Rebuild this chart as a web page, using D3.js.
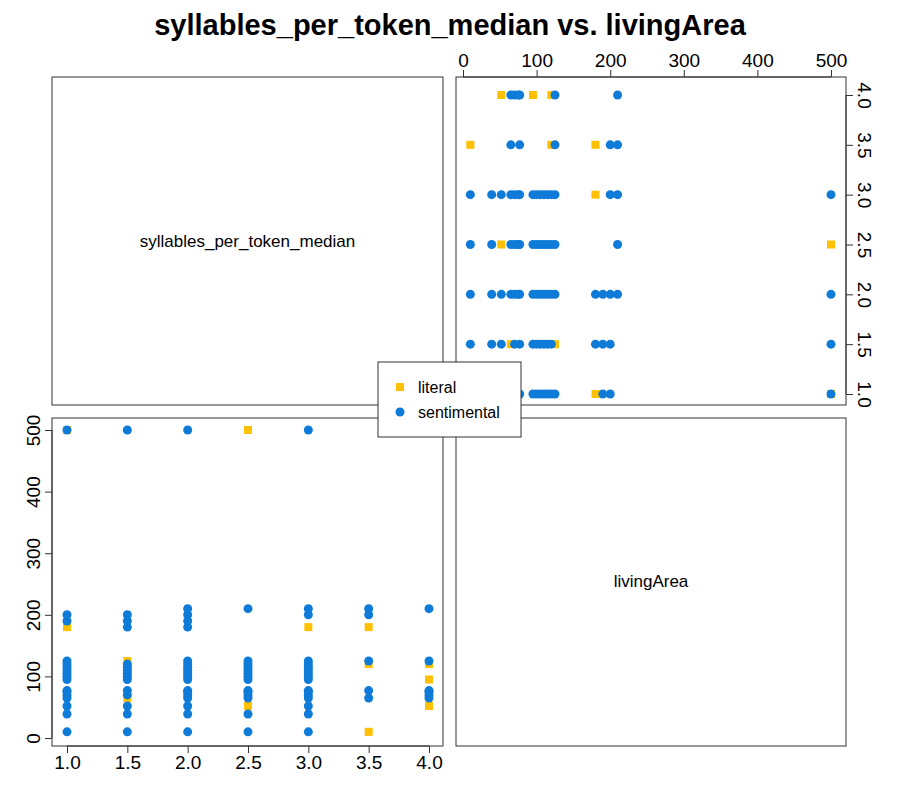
<!DOCTYPE html><html><head><script src="https://cdn.jsdelivr.net/npm/d3@7"></script>
<style>body{margin:0;background:#fff}text{font-family:Arial,"Liberation Sans",sans-serif}</style></head><body>
<script>
const sylLevels=[1,1.5,2,2.5,3,3.5,4];
const sentimentalBySyl={
1:[10,39,52,65,70,75,77,95,100,105,110,115,120,125,190,200,500],
1.5:[10,39,52,70,77,95,100,105,110,115,120,180,190,200,500],
2:[10,39,52,65,70,75,77,95,100,105,110,115,120,125,180,190,200,210,500],
2.5:[10,39,65,70,75,77,95,100,105,110,115,120,125,210],
3:[10,39,52,65,70,75,77,95,100,105,110,115,120,125,200,210,500],
3.5:[65,77,125,200,210],
4:[65,70,75,77,125,210]};
const literalBySyl={1:[180,500],1.5:[65,125],2:[],2.5:[52,500],3:[180],3.5:[10,120,180],4:[52,95,120]};
const pts=[];
sylLevels.forEach(s=>{sentimentalBySyl[s].forEach(a=>pts.push({s,a,g:"sentimental"}));literalBySyl[s].forEach(a=>pts.push({s,a,g:"literal"}));});
const col={literal:"#FFC000",sentimental:"#0E7BD8"};
const svg=d3.select("body").append("svg").attr("width",900).attr("height",800);
svg.append("text").attr("x",450).attr("y",35).attr("text-anchor","middle").attr("font-size",29).attr("font-weight","bold").text("syllables_per_token_median vs. livingArea");
const L=[52,443],R=[456,846],T=[77,405],B=[418,746];
function box(x,y){svg.append("rect").attr("x",x[0]).attr("y",y[0]).attr("width",x[1]-x[0]).attr("height",y[1]-y[0]).attr("fill","none").attr("stroke","#333");}
box(L,T);box(R,T);box(L,B);box(R,B);
svg.append("text").attr("x",(L[0]+L[1])/2).attr("y",247).attr("text-anchor","middle").attr("font-size",17).text("syllables_per_token_median");
svg.append("text").attr("x",(R[0]+R[1])/2).attr("y",587).attr("text-anchor","middle").attr("font-size",17).text("livingArea");
const xs=d3.scaleLinear().domain([1,4]).range([67,429]);
const ya=d3.scaleLinear().domain([0,500]).range([738,430]);
const xa=d3.scaleLinear().domain([0,500]).range([463,831]);
const ys=d3.scaleLinear().domain([1,4]).range([394,95]);
function axisStyle(g){g.selectAll("text").attr("font-size",19).attr("fill","#000");g.select(".domain").remove();g.selectAll("line").attr("stroke","#333");}
svg.append("g").attr("transform",`translate(0,${B[1]})`).call(d3.axisBottom(xs).tickValues(sylLevels).tickFormat(d3.format(".1f")).tickSize(7)).call(axisStyle).call(g=>g.append("line").attr("x1",xs(1)).attr("x2",xs(4)).attr("stroke","#333"));
svg.append("g").attr("class","ly").attr("transform",`translate(${L[0]},0)`).call(d3.axisLeft(ya).ticks(5).tickSize(7)).call(axisStyle).call(g=>g.append("line").attr("y1",ya(0)).attr("y2",ya(500)).attr("stroke","#333"));
svg.append("g").attr("transform",`translate(0,${T[0]})`).call(d3.axisTop(xa).ticks(5).tickSize(7)).call(axisStyle).call(g=>g.append("line").attr("x1",xa(0)).attr("x2",xa(500)).attr("stroke","#333"));
svg.append("g").attr("class","ry").attr("transform",`translate(${R[1]},0)`).call(d3.axisRight(ys).tickValues(sylLevels).tickFormat(d3.format(".1f")).tickSize(7)).call(axisStyle).call(g=>g.append("line").attr("y1",ys(1)).attr("y2",ys(4)).attr("stroke","#333"));
svg.select(".ly").selectAll(".tick text").attr("transform","rotate(-90)").attr("x",0).attr("y",-12).attr("dy","0").attr("text-anchor","middle");
svg.select(".ry").selectAll(".tick text").attr("transform","rotate(90)").attr("x",0).attr("y",-12).attr("dy","0").attr("text-anchor","middle");
function mark(g,x,y,grp){if(grp==="literal")g.append("rect").attr("x",x-4).attr("y",y-4).attr("width",8).attr("height",8).attr("fill",col.literal);else g.append("circle").attr("cx",x).attr("cy",y).attr("r",4.5).attr("fill",col.sentimental);}
const gp=svg.append("g");
pts.filter(p=>p.g==="literal").forEach(p=>{mark(gp,xs(p.s),ya(p.a),p.g);mark(gp,xa(p.a),ys(p.s),p.g);});
pts.filter(p=>p.g==="sentimental").forEach(p=>{mark(gp,xs(p.s),ya(p.a),p.g);mark(gp,xa(p.a),ys(p.s),p.g);});
svg.append("rect").attr("x",378).attr("y",362).attr("width",143).attr("height",75).attr("fill","#fff").attr("stroke","#333");
mark(svg,400,387,"literal");mark(svg,400,412,"sentimental");
svg.append("text").attr("x",418).attr("y",393).attr("font-size",16).text("literal");
svg.append("text").attr("x",418).attr("y",418).attr("font-size",16).text("sentimental");
</script></body></html>
